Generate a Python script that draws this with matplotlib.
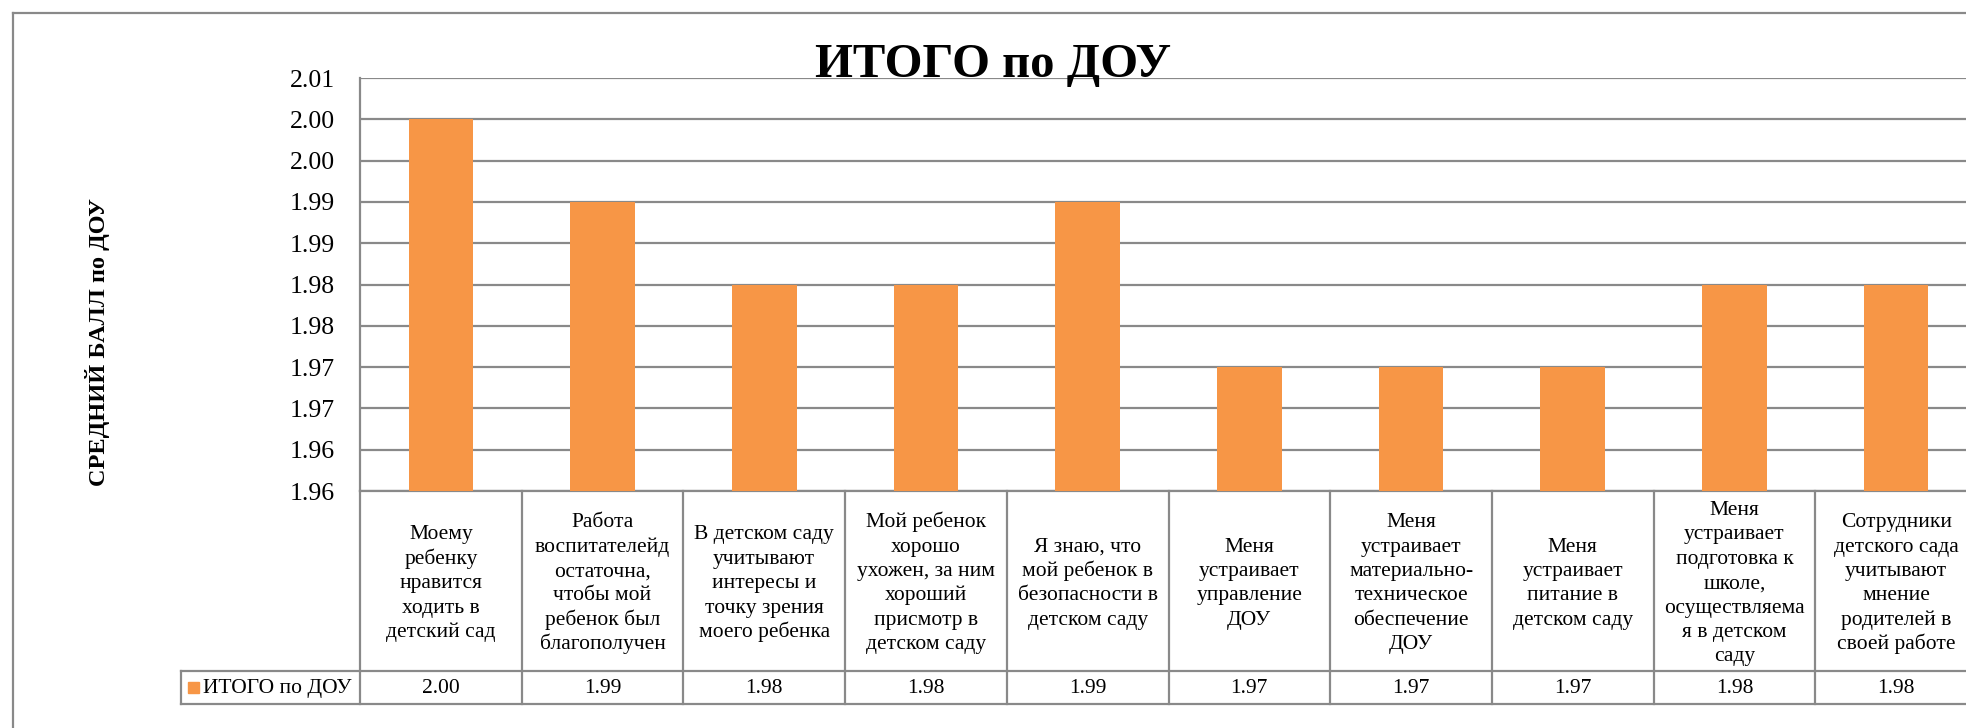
import matplotlib
matplotlib.use("Agg")
import matplotlib.pyplot as plt
from matplotlib.lines import Line2D
from matplotlib.patches import Rectangle
import numpy as np

plt.rcParams['font.family'] = ['Liberation Serif', 'DejaVu Serif']

# ---- data ----
categories = [
    "Моему\nребенку\nнравится\nходить в\nдетский сад",
    "Работа\nвоспитателейд\nостаточна,\nчтобы мой\nребенок был\nблагополучен",
    "В детском саду\nучитывают\nинтересы и\nточку зрения\nмоего ребенка",
    "Мой ребенок\nхорошо\nухожен, за ним\nхороший\nприсмотр в\nдетском саду",
    "Я знаю, что\nмой ребенок в\nбезопасности в\nдетском саду",
    "Меня\nустраивает\nуправление\nДОУ",
    "Меня\nустраивает\nматериально-\nтехническое\nобеспечение\nДОУ",
    "Меня\nустраивает\nпитание в\nдетском саду",
    "Меня\nустраивает\nподготовка к\nшколе,\nосуществляема\nя в детском\nсаду",
    "Сотрудники\nдетского сада\nучитывают\nмнение\nродителей в\nсвоей работе",
]
values = [2.00, 1.99, 1.98, 1.98, 1.99, 1.97, 1.97, 1.97, 1.98, 1.98]
series_name = "ИТОГО по ДОУ"
title = "ИТОГО по ДОУ"
y_label = "СРЕДНИЙ БАЛЛ по ДОУ"
y_ticks = [1.955, 1.960, 1.965, 1.970, 1.975, 1.980, 1.985, 1.990, 1.995, 2.000, 2.005]
y_tick_labels = ["1.96", "1.96", "1.97", "1.97", "1.98", "1.98", "1.99", "1.99", "2.00", "2.00", "2.01"]

# ---- layout (pixels) ----
W, H = 1966, 728
L, T, B = 360, 78, 491
CW = 161.7
R = L + CW * len(categories)
ROW1_BOT = 671
ROW2_BOT = 704
LEG_L = 181
GRID = '#898989'
BAR = '#F79646'
TFS = 15.5          # table font size
PITCH = 24.4        # line pitch in table cells (px)
CAP = 14.5          # cap height (px) at TFS

fig = plt.figure(figsize=(W / 100, H / 100), dpi=100)
fx = lambda px: px / W
fy = lambda py: 1 - py / H

ax = fig.add_axes([fx(L), fy(B), (R - L) / W, (B - T) / H])
x = np.arange(len(categories))
ax.bar(x, values, width=0.4, color=BAR, zorder=3)
ax.set_xlim(-0.5, len(categories) - 0.5)
ax.set_ylim(y_ticks[0], y_ticks[-1])
ax.set_yticks(y_ticks)
ax.set_yticklabels(y_tick_labels, fontsize=18.5)
ax.tick_params(axis='y', length=0, pad=18)
ax.set_xticks([])
ax.grid(axis='y', color=GRID, lw=1.6, zorder=0)
for s in ['top', 'right']:
    ax.spines[s].set_visible(False)
for s in ['left', 'bottom']:
    ax.spines[s].set_color(GRID)
    ax.spines[s].set_linewidth(1.6)

# ---- data table (drawn in figure pixel space) ----
def line(x0, x1, y0, y1):
    fig.add_artist(Line2D([fx(x0), fx(x1)], [fy(y0), fy(y1)],
                          transform=fig.transFigure, color=GRID, lw=1.6))

for i in range(len(categories) + 1):
    xb = L + i * CW
    line(xb, xb, B, ROW2_BOT)
line(LEG_L, W + 20, ROW1_BOT, ROW1_BOT)
line(LEG_L, W + 20, ROW2_BOT, ROW2_BOT)
line(LEG_L, LEG_L, ROW1_BOT, ROW2_BOT)

cell_c = (B + ROW1_BOT) / 2
for i, (c, v) in enumerate(zip(categories, values)):
    xc = L + (i + 0.5) * CW
    lines = c.split("\n")
    n = len(lines)
    b0 = cell_c + CAP / 2 - (n - 1) * PITCH / 2
    for k, ln in enumerate(lines):
        fig.text(fx(xc), fy(b0 + k * PITCH), ln, ha='center', va='baseline',
                 fontsize=TFS)
    fig.text(fx(xc), fy(693), f"{v:.2f}", ha='center', va='baseline',
             fontsize=TFS)

# legend key in table
fig.add_artist(Rectangle((fx(188), fy(693)), 11 / W, 11 / H,
                         transform=fig.transFigure, color=BAR))
fig.text(fx(203), fy(693), series_name, ha='left', va='baseline', fontsize=TFS)

# ---- titles ----
fig.text(fx(993.5), fy(77), title, ha='center', va='baseline', fontsize=35,
         fontweight='bold')
fig.text(fx(98), fy(342), y_label, ha='center', va='center', fontsize=17.5,
         fontweight='bold', rotation=90)

# ---- outer frame ----
fig.add_artist(Line2D([fx(12.5), 1.01], [fy(12.5), fy(12.5)],
                      transform=fig.transFigure, color=GRID, lw=1.6))
fig.add_artist(Line2D([fx(12.5), fx(12.5)], [fy(12.5), -0.01],
                      transform=fig.transFigure, color=GRID, lw=1.6))

fig.savefig("out.png", dpi=100)
